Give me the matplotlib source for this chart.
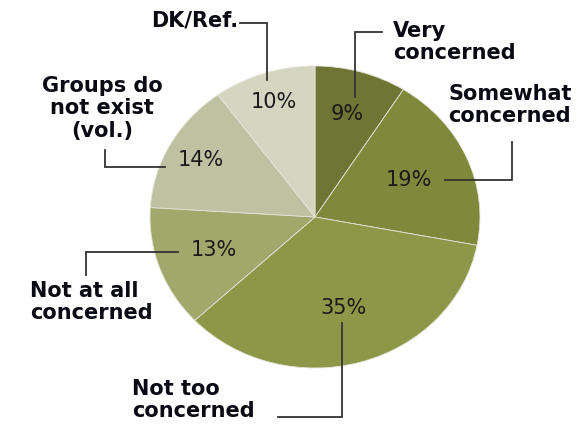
import matplotlib
matplotlib.use("Agg")
import numpy as np
import matplotlib.pyplot as plt

# --- DATA ---
categories = ["Very\nconcerned", "Somewhat\nconcerned", "Not too\nconcerned",
              "Not at all\nconcerned", "Groups do\nnot exist\n(vol.)", "DK/Ref."]
values = [9, 19, 35, 13, 14, 10]
colors = ["#6e7535", "#7f893c", "#8c9748", "#a2a86c", "#bfc2a2", "#d4d6c1"]

# layout (pixel coords of the 584x426 image)
W, H = 584, 426
pie_box = (150, 66, 480, 368)           # left, top, right, bottom
pct_dist = [0.71, 0.62, 0.625, 0.65, 0.79, 0.80]
label_pos = [(393, 21, "left"), (448, 84, "left"), (132, 379, "left"),
             (30, 281, "left"), (102, 76, "center"), (238, 11, "right")]
leaders = [
    [(355, 97), (355, 32), (382, 32)],
    [(445, 180), (512, 180), (512, 142)],
    [(342, 323), (342, 417), (278, 417)],
    [(178, 252), (86, 252), (86, 275)],
    [(165, 167), (105, 167), (105, 150)],
    [(240, 23), (267, 23), (267, 80)],
]

fig = plt.figure(figsize=(W / 100, H / 100), dpi=100)
fig.patch.set_facecolor("white")

l, t, r, b = pie_box
ax = fig.add_axes([l / W, (H - b) / H, (r - l) / W, (b - t) / H])
wedges, _ = ax.pie(values, colors=colors, startangle=90, counterclock=False,
                   wedgeprops=dict(edgecolor="#e4e4d8", linewidth=0.6))
ax.set_aspect("auto")
ax.set_xlim(-1, 1)
ax.set_ylim(-1, 1)
ax.axis("off")

for w, v, d in zip(wedges, values, pct_dist):
    ang = np.deg2rad((w.theta1 + w.theta2) / 2)
    ax.text(d * np.cos(ang), d * np.sin(ang), f"{v}%", ha="center", va="center",
            fontsize=15, color="#1a1a1a")

# overlay for labels and leader lines in pixel coords
ov = fig.add_axes([0, 0, 1, 1])
ov.set_xlim(0, W)
ov.set_ylim(H, 0)
ov.axis("off")
ov.patch.set_alpha(0)

for pts in leaders:
    xs, ys = zip(*pts)
    ov.plot(xs, ys, color="#333333", lw=1.3, solid_joinstyle="miter")

for lab, (x, y, ha) in zip(categories, label_pos):
    ov.text(x, y, lab, ha=ha, va="top", multialignment=ha, fontsize=15,
            fontweight="bold", color="#0a0a14", linespacing=1.15)

fig.savefig("out.png", dpi=100)
